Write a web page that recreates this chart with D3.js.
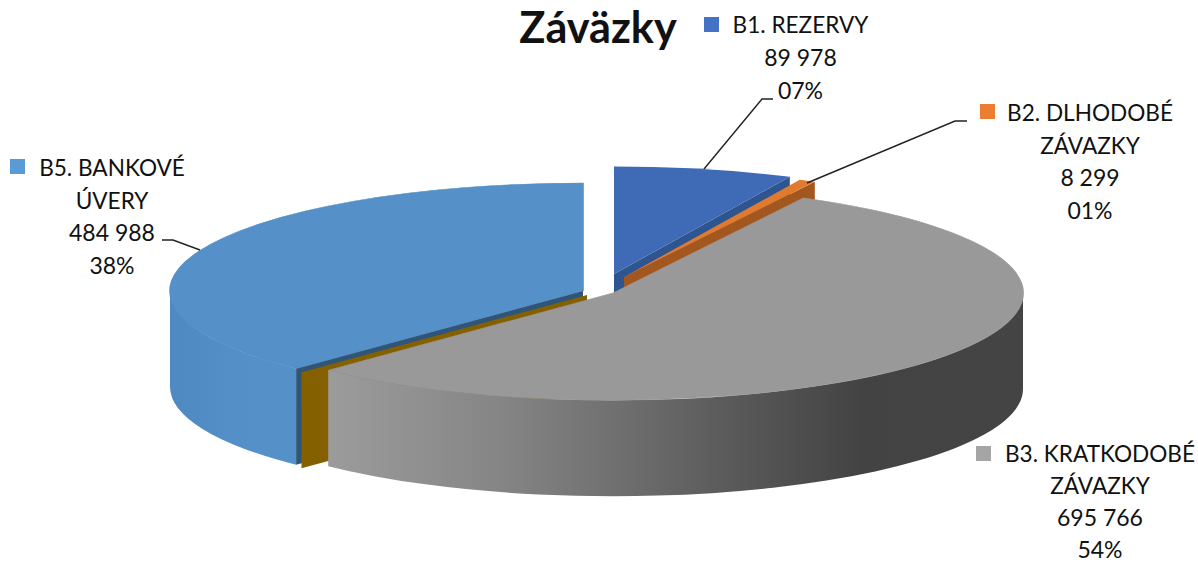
<!DOCTYPE html>
<html><head><meta charset="utf-8">
<script src="https://cdn.jsdelivr.net/npm/d3@7/dist/d3.min.js"></script>
<style>html,body{margin:0;padding:0;background:#fff}svg{display:block}text{font-family:Lato,"Open Sans",sans-serif;fill:#111}</style>
</head><body><svg id="c" width="1198" height="563"></svg>
<script>
// ---- data ----
const chartTitle = "Záväzky";
const categories = ["B1. REZERVY", "B2. DLHODOBÉ ZÁVAZKY", "B3. KRATKODOBÉ ZÁVAZKY", "B4", "B5. BANKOVÉ ÚVERY"];
const values = [89978, 8299, 695766, 0, 484988];

// ---- appearance and layout ----
const colors = ["#3f6ab5", "#e07a2e", "#999999", "#846000", "#5590c8"];
const cutColors = ["#2f5590", "#a3571f", "#777777", "#846000", "#2f5578"];
const keyColors = ["#4472c4", "#ed7d31", "#a5a5a5", "#ffc000", "#5b9bd5"];
const radii = [411, 411, 410, 411, 413];
const ryRatio = 107.5 / 411, depth = 96;
const seamTilt = 0.5 * Math.PI / 180;   // perspective shift of the B3/B5 seam
const centers = [[614, 274], [624, 277], [613, 293], [587, 295], [583, 291]];
const labels = [
  {i: 0, lines: ["B1. REZERVY"], x: 800.5, y: 33, dy: 33, key: [704, 17]},
  {i: 1, lines: ["B2. DLHODOBÉ", "ZÁVAZKY"], x: 1090, y: 121, dy: 32.5, key: [980, 104]},
  {i: 2, lines: ["B3. KRATKODOBÉ", "ZÁVAZKY"], x: 1100, y: 461.5, dy: 32.1, key: [976, 446]},
  {i: 4, lines: ["B5. BANKOVÉ", "ÚVERY"], x: 112, y: 176, dy: 32.5, key: [10, 159]}
];
const leaders = [
  [[704, 169], [762, 99], [773, 99]],
  [[807, 183], [955, 121], [967, 121]],
  [[200, 250], [173, 240], [162, 240]]
];

const svg = d3.select("#c");
const total = d3.sum(values);
const arcs = d3.pie().sort(null).startAngle(0).endAngle(2 * Math.PI)(values);
arcs[2].endAngle += seamTilt; arcs[3].startAngle += seamTilt; arcs[3].endAngle += seamTilt; arcs[4].startAngle += seamTilt;
const fmt = d3.formatLocale({decimal: ",", thousands: " ", grouping: [3], currency: ["", ""]}).format(",d");
const pct = d3.format("02d");

const defs = svg.append("defs");
function grad(id, x1, x2, stops) {
  const g = defs.append("linearGradient").attr("id", id).attr("gradientUnits", "userSpaceOnUse")
    .attr("x1", x1).attr("x2", x2).attr("y1", 0).attr("y2", 0);
  stops.forEach(s => g.append("stop").attr("offset", s[0]).attr("stop-color", s[1]));
}
grad("wallGray", 327, 1023, [[0, "#9c9c9c"], [0.25, "#858585"], [0.42, "#6f6f6f"], [0.61, "#565656"], [0.77, "#434343"], [1, "#444444"]]);
grad("wallBlue", 170, 300, [[0, "#4f89c1"], [0.35, "#538dc5"], [0.6, "#5590c8"], [1, "#5590c8"]]);

const pt = (i, a) => {
  const c = centers[i], r = radii[i];
  return [c[0] + r * Math.sin(a), c[1] - r * ryRatio * Math.cos(a)];
};
function cutFace(i, a) {
  const c = centers[i], p = pt(i, a);
  return `M${c}L${p}L${p[0]},${p[1] + depth}L${c[0]},${c[1] + depth}Z`;
}
function wall(i, a0, a1) {
  const r = radii[i], ry = r * ryRatio, p0 = pt(i, a0), p1 = pt(i, a1);
  const large = a1 - a0 > Math.PI ? 1 : 0;
  return `M${p0}A${r},${ry} 0 ${large} 1 ${p1}L${p1[0]},${p1[1] + depth}` +
         `A${r},${ry} 0 ${large} 0 ${p0[0]},${p0[1] + depth}Z`;
}
function drawTop(i, seal) {
  const d = arcs[i], c = centers[i];
  const topArc = d3.arc().innerRadius(0).outerRadius(radii[i]);
  const p = svg.append("path").attr("d", topArc({startAngle: d.startAngle, endAngle: d.endAngle}))
    .attr("transform", `translate(${c}) scale(1,${ryRatio})`).attr("fill", colors[i]);
  if (seal) p.attr("stroke", colors[i]).attr("stroke-width", 1.6);
}
function drawCut(i, a) {
  svg.append("path").attr("d", cutFace(i, a)).attr("fill", cutColors[i]);
}

// B1
drawCut(0, arcs[0].endAngle); drawTop(0);
// B2
drawCut(1, arcs[1].endAngle); drawTop(1);
// B5
svg.append("path").attr("d", wall(4, arcs[4].startAngle, 1.5 * Math.PI)).attr("fill", "url(#wallBlue)");
drawTop(4, true);
drawCut(4, arcs[4].startAngle);
// B4 (empty slice, only its face shows)
drawCut(3, arcs[3].startAngle);
// B3
svg.append("path").attr("d", wall(2, Math.PI / 2, arcs[2].endAngle)).attr("fill", "url(#wallGray)");
drawTop(2, true);

// leader lines
const line = d3.line();
leaders.forEach(l => svg.append("path").attr("d", line(l)).attr("fill", "none").attr("stroke", "#222").attr("stroke-width", 1.4));

// labels
labels.forEach(l => {
  svg.append("rect").attr("x", l.key[0]).attr("y", l.key[1]).attr("width", 15).attr("height", 15)
    .attr("fill", keyColors[l.i]);
  const v = values[l.i];
  const rows = l.lines.concat([fmt(v), pct(Math.round(v / total * 100)) + "%"]);
  rows.forEach((t, j) => svg.append("text").attr("x", l.x).attr("y", l.y + j * l.dy)
    .attr("text-anchor", "middle").attr("font-size", j < l.lines.length ? 22.6 : 23).text(t));
});
svg.append("text").attr("x", 598).attr("y", 43).attr("text-anchor", "middle")
  .attr("font-size", 43.2).attr("font-weight", 700).text(chartTitle);
</script></body></html>
